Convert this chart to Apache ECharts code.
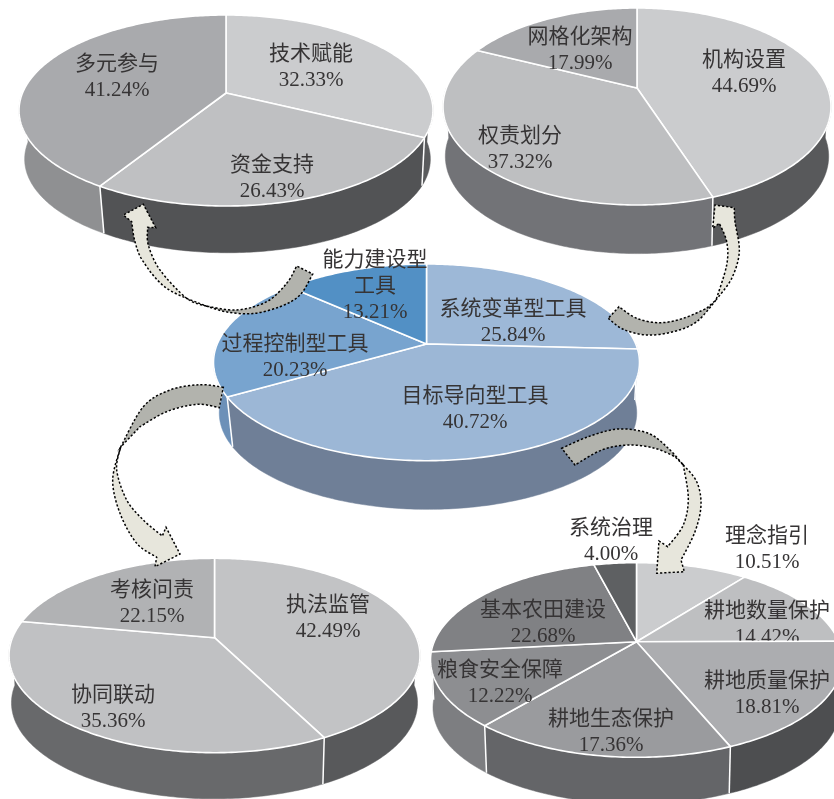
<!DOCTYPE html>
<html>
<head>
<meta charset="utf-8">
<style>html,body{margin:0;padding:0;background:#fff}#chart{width:834px;height:799px}</style>
<script src="https://cdn.jsdelivr.net/npm/echarts@6/dist/echarts.min.js"></script>
</head>
<body>
<div id="chart"></div>
<script>
// Share of each policy tool group, clockwise from twelve o'clock
const capacityNames = ['技术赋能', '资金支持', '多元参与'];
const capacityValues = [32.33, 26.43, 41.24];
const structureNames = ['机构设置', '权责划分', '网格化架构'];
const structureValues = [44.69, 37.32, 17.99];
const toolNames = ['系统变革型工具', '目标导向型工具', '过程控制型工具', '能力建设型\n工具'];
const toolValues = [25.84, 40.72, 20.23, 13.21];
const processNames = ['执法监管', '协同联动', '考核问责'];
const processValues = [42.49, 35.36, 22.15];
const goalNames = ['理念指引', '耕地数量保护', '耕地质量保护', '耕地生态保护', '粮食安全保障', '基本农田建设', '系统治理'];
const goalValues = [10.51, 14.42, 18.81, 17.36, 12.22, 22.68, 4.00];

// Face and side colours
const capacityFaces = ['#cbccce', '#bfc0c2', '#a9aaad'];
const capacityWalls = ['#5a5b5d', '#525355', '#8f9092'];
const structureFaces = ['#cbccce', '#bebfc1', '#a9aaad'];
const structureWalls = ['#58595b', '#727377', '#8f9092'];
const toolFaces = ['#9db8d7', '#9cb7d6', '#78a4cf', '#5290c5'];
const toolWalls = ['#6f7f97', '#6f7f97', '#6c90b8', '#4a7fae'];
const processFaces = ['#c2c3c5', '#c0c1c3', '#b1b2b4'];
const processWalls = ['#58595b', '#68696b', '#8a8b8d'];
const goalFaces = ['#cbccce', '#bebfc1', '#acadb0', '#9a9b9e', '#8d8e91', '#808184', '#5e6062'];
const goalWalls = ['#58595b', '#4d4e50', '#4d4e50', '#646568', '#7d7e81', '#77787b', '#55575a'];

// Label centres and the tilted-disc geometry of each pie
const capacityLabels = [[311, 67], [272, 178], [117, 77]];
const structureLabels = [[744, 73], [520, 149], [580, 50]];
const toolLabels = [[513, 322], [475, 409], [295, 357], [375, 286]];
const processLabels = [[328, 618], [113, 708], [152, 603]];
const goalLabels = [[767, 549], [767, 624], [767, 694], [611, 732], [500, 683], [543, 623], [611, 541]];

const pies = [
  { names: capacityNames, values: capacityValues, faces: capacityFaces, walls: capacityWalls, labels: capacityLabels,
    ax: 226, ay: 93, up: 78, down: 113, halfW: 207, depth: 49, shrink: 0.98, shift: 1.5 },
  { names: structureNames, values: structureValues, faces: structureFaces, walls: structureWalls, labels: structureLabels,
    ax: 637, ay: 88, up: 80, down: 117, halfW: 194, depth: 50, shrink: 0.988, shift: 0 },
  { names: toolNames, values: toolValues, faces: toolFaces, walls: toolWalls, labels: toolLabels,
    ax: 426.5, ay: 344, up: 80, down: 116.7, halfW: 213, depth: 51, shrink: 0.98, shift: 1.5 },
  { names: processNames, values: processValues, faces: processFaces, walls: processWalls, labels: processLabels,
    ax: 214.5, ay: 637.7, up: 79.4, down: 115, halfW: 205.5, depth: 47.5, shrink: 0.988, shift: 0 },
  { names: goalNames, values: goalValues, faces: goalFaces, walls: goalWalls, labels: goalLabels,
    ax: 636.5, ay: 641.7, up: 79, down: 115.6, halfW: 206, depth: 48, shrink: 0.988, shift: 0 }
];

const FONT = '"Liberation Serif","Noto Sans CJK SC",serif';

// Perspective map from a disc angle (radians clockwise from the back) to the page
function project(p, a, lower) {
  const k = (p.down - p.up) / (p.down + p.up);
  const ry = p.up * (1 + k);
  const rx = p.halfW * Math.sqrt(1 - k * k);
  const v = -Math.cos(a);
  const w = 1 - k * v;
  const s = lower ? p.shrink : 1;
  return [p.ax + s * rx * Math.sin(a) / w + (lower ? p.shift : 0), p.ay + s * ry * v / w + (lower ? p.depth : 0)];
}

function arc(p, from, to, lower) {
  const n = Math.max(2, Math.ceil(Math.abs(to - from) / 0.015));
  const out = [];
  for (let i = 0; i <= n; i++) out.push(project(p, from + (to - from) * i / n, lower));
  return out;
}

// One row per slice: pie index, slice index, start and end share of the turn
const sliceRows = [];
pies.forEach((p, pi) => {
  const total = p.values.reduce((a, b) => a + b, 0);
  let run = 0;
  p.values.forEach((val, si) => {
    sliceRows.push([pi, si, run / total, (run + val) / total]);
    run += val;
  });
});

function renderWall(params, api) {
  const p = pies[api.value(0)], si = api.value(1);
  const turn = Math.PI * 2;
  const start = api.value(2) * turn, end = api.value(3) * turn;
  // Only the front half of the rim can be seen
  const from = Math.max(start, Math.PI / 2), to = Math.min(end, Math.PI * 1.5);
  if (to <= from) return { type: 'group', children: [] };
  const top = arc(p, from, to, false);
  const low = arc(p, from, to, true).reverse();
  const fill = p.walls[si];
  const kids = [{
    type: 'polygon', shape: { points: top.concat(low) },
    style: { fill: fill, stroke: fill, lineWidth: 0.5 }
  }];
  if (start > Math.PI / 2 && start < Math.PI * 1.5) {
    const a = project(p, start, false), b = project(p, start, true);
    kids.push({ type: 'line', shape: { x1: a[0], y1: a[1], x2: b[0], y2: b[1] },
      style: { stroke: '#fff', lineWidth: 1.5 } });
  }
  return { type: 'group', children: kids };
}

function renderFace(params, api) {
  const p = pies[api.value(0)], si = api.value(1);
  const turn = Math.PI * 2;
  const rim = arc(p, api.value(2) * turn, api.value(3) * turn, false);
  const at = p.labels[si];
  return {
    type: 'group',
    children: [
      { type: 'polygon', shape: { points: [[p.ax, p.ay]].concat(rim) },
        style: { fill: p.faces[si], stroke: '#fff', lineWidth: 1.6, lineJoin: 'round' } },
      { type: 'text', x: at[0], y: at[1],
        style: { text: p.names[si] + '\n' + p.values[si].toFixed(2) + '%', fontFamily: FONT, fontSize: 21,
          lineHeight: 26, fill: '#363435', align: 'center', verticalAlign: 'middle' } }
    ]
  };
}

// Smooth a run of points into bezier segments (Catmull-Rom)
function run(points, first) {
  let d = (first ? 'M' : 'L') + points[0][0] + ' ' + points[0][1];
  for (let i = 0; i < points.length - 1; i++) {
    const p0 = points[Math.max(i - 1, 0)], p1 = points[i], p2 = points[i + 1], p3 = points[Math.min(i + 2, points.length - 1)];
    d += 'C' + (p1[0] + (p2[0] - p0[0]) / 6) + ' ' + (p1[1] + (p2[1] - p0[1]) / 6) + ' ' +
      (p2[0] - (p3[0] - p1[0]) / 6) + ' ' + (p2[1] - (p3[1] - p1[1]) / 6) + ' ' + p2[0] + ' ' + p2[1];
  }
  return d;
}
function outline(runs) {
  return runs.map((r, i) => run(r, i === 0)).join('') + 'Z';
}

// Connector arrows: a dark tail and a pale head meeting at a pinch
const arrowTails = [
  [[[206, 306], [227, 312], [253, 313.5], [280, 306.7], [300, 295], [312.7, 274]],
   [[296.7, 266], [286.7, 283.3], [266.7, 301.7], [236.7, 310], [206, 306]]],
  [[[608.3, 318.3], [623.3, 329.3], [646.7, 335], [673.3, 331.7], [696.7, 321.7], [716, 300]],
   [[706.7, 308.3], [683.3, 318.3], [660, 322.7], [636.7, 318.3], [619, 306.7]]],
  [[[223.3, 387.3], [200, 384.7], [170, 390], [143.3, 406.7], [120.7, 447]],
   [[140, 426.7], [166.7, 411.7], [196.7, 404.3], [219.3, 407.7]]],
  [[[561.7, 448.3], [588.3, 436.7], [618.3, 429], [648.3, 433.3], [668.3, 448.3], [683.3, 465]],
   [[675, 456.7], [655, 448.3], [628.3, 445], [601.7, 450], [575, 465]]]
];
const arrowHeads = [
  [[[206, 306], [186.7, 298.3], [160, 270], [148.3, 245], [147.7, 227.3]],
   [[155.7, 227.7]], [[143.3, 204.3]], [[123.3, 215]],
   [[131.7, 221.7], [135, 241.7], [143.3, 261.7], [166.7, 288.3], [206, 306]]],
  [[[716, 300], [731.7, 278.3], [739.3, 251.7], [735, 221.7], [734.3, 207.7]],
   [[715, 205]], [[712.7, 228.3]],
   [[719.3, 223.3], [726.7, 241.7], [726.7, 265], [716, 300]]],
  [[[120.7, 447], [112.7, 480], [120, 513.3], [136.7, 543.3], [156.7, 557.3]],
   [[155, 566.7]], [[180, 554]], [[166, 527.3]],
   [[162.3, 536], [143.3, 520], [126.7, 500], [116.7, 470], [120.7, 447]]],
  [[[683.3, 465], [696.7, 481.7], [701, 505], [695, 531.7], [681, 560]],
   [[684.3, 571.7]], [[656.7, 573.3]], [[659, 541]],
   [[667.7, 546.7], [683.3, 525], [688.3, 498.3], [683.3, 465]]]
];
const arrowRows = arrowTails.map((t, i) => [i, 0]).concat(arrowHeads.map((h, i) => [i, 1]));

function renderArrow(params, api) {
  const part = api.value(1);
  const shape = part ? arrowHeads[api.value(0)] : arrowTails[api.value(0)];
  return {
    type: 'path',
    shape: { pathData: outline(shape) },
    style: { fill: part ? '#e7e6dc' : '#b2b3ad', stroke: '#000', lineWidth: 1.5, lineDash: [2.2, 2] }
  };
}

const chart = echarts.init(document.getElementById('chart'), null, { renderer: 'canvas' });
chart.setOption({
  animation: false,
  backgroundColor: '#fff',
  series: [
    { type: 'custom', coordinateSystem: 'none', silent: true, z: 2, data: sliceRows, renderItem: renderWall },
    { type: 'custom', coordinateSystem: 'none', silent: true, z: 3, data: sliceRows, renderItem: renderFace },
    { type: 'custom', coordinateSystem: 'none', silent: true, z: 4, data: arrowRows, renderItem: renderArrow }
  ]
});
</script>
</body>
</html>
